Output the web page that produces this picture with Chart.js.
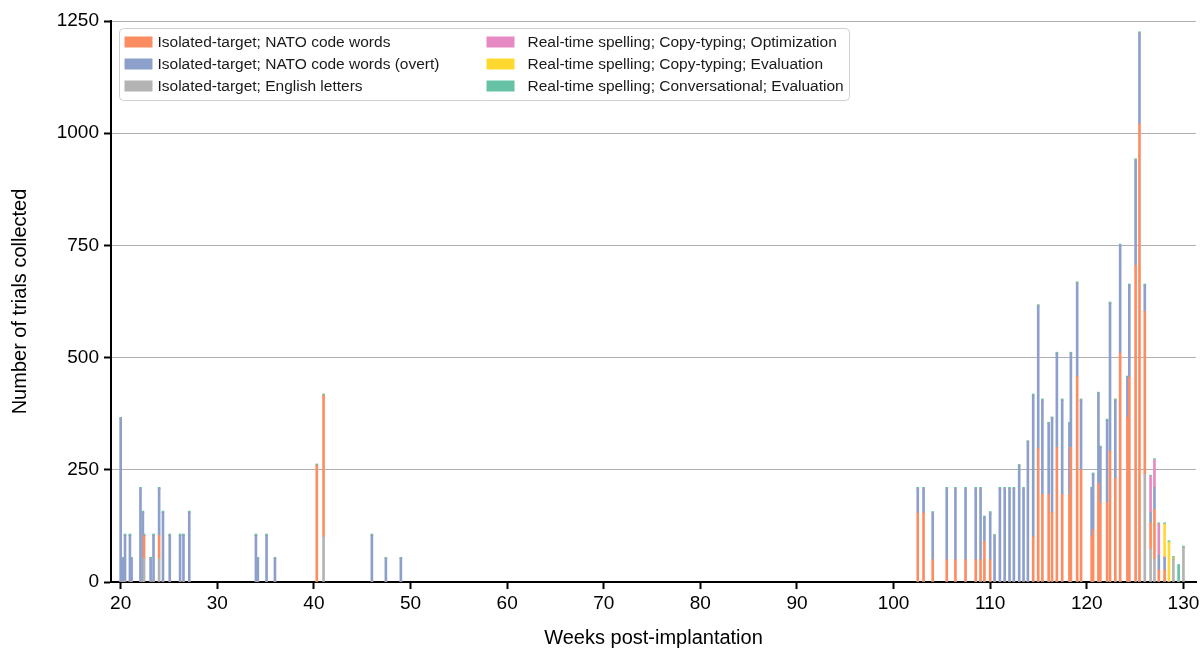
<!DOCTYPE html>
<html>
<head>
<meta charset="utf-8">
<script src="https://cdn.jsdelivr.net/npm/chart.js@4.4.1/dist/chart.umd.min.js"></script>
<style>
  html, body { margin: 0; padding: 0; background: #ffffff; }
  #wrap { width: 1204px; height: 654px; position: relative; }
</style>
</head>
<body>
<div id="wrap"><canvas id="c" width="1204" height="654"></canvas></div>
<script>
// ---- Data ----
const weeks = [
  20.0, 20.25, 20.45, 20.96, 21.13, 22.05, 22.3, 22.42, 23.1, 23.4, 23.98, 24.38,
  25.08, 26.15, 26.5, 27.1, 34.0, 34.2, 35.1, 35.97, 40.3, 41.0, 46.0, 47.45, 49.0,
  102.5, 103.1, 104.05, 105.5, 106.4, 107.45, 108.5, 109.0, 109.4, 110.0, 110.45,
  111.0, 111.5, 112.0, 112.45, 113.0, 113.45, 113.9, 114.45, 114.97, 115.4, 116.05,
  116.4, 116.9, 117.45, 118.2, 118.35, 119.0, 119.4, 120.5, 120.65, 121.2, 121.4,
  122.1, 122.4, 122.95, 123.45, 124.2, 124.4, 125.05, 125.45, 126.0, 126.6, 127.0,
  127.45, 128.05, 128.5, 128.96, 129.5, 130.0
];
const isolatedEnglish = [
  0, 0, 0, 0, 0, 0, 0, 52, 0, 0, 52, 0,
  0, 0, 0, 0, 0, 0, 0, 0, 0, 101, 0, 0, 0,
  0, 0, 0, 0, 0, 0, 0, 0, 0, 0, 0,
  0, 0, 0, 0, 0, 0, 0, 0, 0, 0, 0,
  0, 0, 0, 0, 0, 0, 0, 0, 0, 0, 0,
  0, 0, 0, 0, 0, 0, 0, 0, 240, 74, 51,
  0, 0, 0, 51, 0, 77
];
const isolatedNato = [
  0, 0, 0, 0, 0, 0, 0, 52, 0, 0, 52, 0,
  0, 0, 0, 0, 0, 0, 0, 0, 260, 315, 0, 0, 0,
  154, 154, 50, 50, 50, 50, 50, 50, 91, 50, 0,
  0, 0, 0, 0, 0, 0, 0, 101, 298, 195, 195,
  155, 300, 195, 195, 300, 458, 250, 101, 117, 220, 177,
  177, 292, 231, 510, 367, 457, 706, 1021, 363, 58, 111,
  27, 27, 0, 0, 0, 0
];
const isolatedNatoOvert = [
  364, 52, 104, 104, 52, 208, 155, 0, 52, 104, 104, 155,
  104, 104, 104, 155, 104, 52, 104, 52, 0, 0, 104, 52, 52,
  54, 54, 104, 158, 158, 158, 158, 158, 53, 104, 103,
  208, 208, 208, 208, 259, 208, 312, 315, 317, 210, 158,
  210, 209, 210, 158, 209, 208, 155, 107, 123, 200, 123,
  183, 329, 174, 240, 89, 204, 234, 202, 58, 23, 49,
  33, 27, 0, 0, 0, 0
];
const rtCopyOptimization = [
  0, 0, 0, 0, 0, 0, 0, 0, 0, 0, 0, 0,
  0, 0, 0, 0, 0, 0, 0, 0, 0, 0, 0, 0, 0,
  0, 0, 0, 0, 0, 0, 0, 0, 0, 0, 0,
  0, 0, 0, 0, 0, 0, 0, 0, 0, 0, 0,
  0, 0, 0, 0, 0, 0, 0, 0, 0, 0, 0,
  0, 0, 0, 0, 0, 0, 0, 0, 0, 80, 61,
  69, 2, 0, 0, 0, 0
];
const rtCopyEvaluation = [
  0, 0, 0, 0, 0, 0, 0, 0, 0, 0, 0, 0,
  0, 0, 0, 0, 0, 0, 0, 0, 0, 0, 0, 0, 0,
  0, 0, 0, 0, 0, 0, 0, 0, 0, 0, 0,
  0, 0, 0, 0, 0, 0, 0, 0, 0, 0, 0,
  0, 0, 0, 0, 0, 0, 0, 0, 0, 0, 0,
  0, 0, 0, 0, 0, 0, 0, 0, 0, 0, 0,
  0, 73, 89, 3, 0, 0
];
const rtConversational = [
  3, 3, 3, 3, 3, 3, 3, 3, 3, 3, 3, 3,
  3, 3, 3, 3, 3, 3, 3, 3, 3, 3, 3, 3, 3,
  3, 3, 3, 3, 3, 3, 3, 3, 3, 3, 3,
  3, 3, 3, 3, 3, 3, 3, 3, 3, 3, 3,
  3, 3, 3, 3, 3, 3, 3, 3, 3, 3, 3,
  3, 3, 3, 3, 3, 3, 3, 3, 3, 3, 3,
  3, 3, 3, 3, 39, 3
];
const xTicks = [20, 30, 40, 50, 60, 70, 80, 90, 100, 110, 120, 130];
const yTicks = [0, 250, 500, 750, 1000, 1250];

const seriesLabels = [
  'Isolated-target; NATO code words',
  'Isolated-target; NATO code words (overt)',
  'Isolated-target; English letters',
  'Real-time spelling; Copy-typing; Optimization',
  'Real-time spelling; Copy-typing; Evaluation',
  'Real-time spelling; Conversational; Evaluation'
];
const seriesColors = ['#fc8d62', '#8da0cb', '#b3b3b3', '#e78ac3', '#ffd92f', '#66c2a5'];

// stacking order bottom -> top: English, NATO, NATO overt, Optimization, Evaluation, Conversational
const stackSeries = [
  [2, isolatedEnglish],
  [0, isolatedNato],
  [1, isolatedNatoOvert],
  [3, rtCopyOptimization],
  [4, rtCopyEvaluation],
  [5, rtConversational]
];

const datasets = stackSeries.map(([li, vals]) => ({
  label: seriesLabels[li],
  data: weeks.map((w, i) => ({ x: w, y: vals[i] })),
  backgroundColor: seriesColors[li],
  borderWidth: 0,
  barThickness: 2,
  stack: 's'
}));

Chart.defaults.font.family = '"Liberation Sans", Arial, Helvetica, sans-serif';
Chart.defaults.color = '#000';

const boxLegend = {
  id: 'boxLegend',
  afterDraw(chart) {
    const { ctx, chartArea } = chart;
    const x0 = chartArea.left + 8.5, y0 = chartArea.top + 7.5, w = 730, h = 72;
    ctx.save();
    ctx.beginPath();
    const r = 4;
    ctx.moveTo(x0 + r, y0);
    ctx.lineTo(x0 + w - r, y0);
    ctx.quadraticCurveTo(x0 + w, y0, x0 + w, y0 + r);
    ctx.lineTo(x0 + w, y0 + h - r);
    ctx.quadraticCurveTo(x0 + w, y0 + h, x0 + w - r, y0 + h);
    ctx.lineTo(x0 + r, y0 + h);
    ctx.quadraticCurveTo(x0, y0 + h, x0, y0 + h - r);
    ctx.lineTo(x0, y0 + r);
    ctx.quadraticCurveTo(x0, y0, x0 + r, y0);
    ctx.closePath();
    ctx.fillStyle = 'rgba(255,255,255,0.85)';
    ctx.fill();
    ctx.strokeStyle = '#d0d0d0';
    ctx.lineWidth = 1;
    ctx.stroke();
    ctx.font = '15.5px "Liberation Sans", Arial, sans-serif';
    ctx.textBaseline = 'middle';
    const colSwatchX = [x0 + 5, x0 + 367];
    const colTextX = [x0 + 38, x0 + 408];
    for (let k = 0; k < seriesLabels.length; k++) {
      const col = Math.floor(k / 3), row = k % 3;
      const cy = y0 + 13.5 + row * 22;
      ctx.fillStyle = seriesColors[k];
      ctx.fillRect(colSwatchX[col], cy - 5.5, 28, 11);
      ctx.fillStyle = '#1a1a1a';
      ctx.fillText(seriesLabels[k], colTextX[col], cy + 1);
    }
    ctx.restore();
  }
};

new Chart(document.getElementById('c'), {
  type: 'bar',
  data: { datasets },
  plugins: [boxLegend],
  options: {
    responsive: false,
    animation: false,
    layout: { padding: { left: 8, top: 21, right: 8, bottom: 4 } },
    plugins: {
      legend: { display: false },
      tooltip: { enabled: false }
    },
    scales: {
      x: {
        type: 'linear',
        stacked: true,
        offset: false,
        min: 19.0,
        max: 131.3,
        afterBuildTicks: (s) => { s.ticks = xTicks.map(v => ({ value: v })); },
        afterFit: (s) => { s.height = 68; },
        grid: { offset: false, drawOnChartArea: false, drawTicks: true, tickLength: 7, tickColor: '#000', tickWidth: 2 },
        border: { color: '#000', width: 2 },
        ticks: { font: { size: 19 }, color: '#000', padding: 3, maxRotation: 0, autoSkip: false,
                 callback: (v) => String(v) },
        title: { display: true, text: 'Weeks post-implantation', font: { size: 20 }, color: '#000', padding: { top: 0, bottom: 0 } }
      },
      y: {
        stacked: true,
        min: 0,
        max: 1250,
        afterBuildTicks: (s) => { s.ticks = yTicks.map(v => ({ value: v })); },
        afterFit: (s) => { s.width = 103; },
        grid: { color: '#b0b0b0', lineWidth: 1, drawTicks: true, tickLength: 7, tickColor: '#000', tickWidth: 2 },
        border: { color: '#000', width: 2 },
        ticks: { font: { size: 19 }, color: '#000', padding: 5, callback: (v) => String(v) },
        title: { display: true, text: 'Number of trials collected', font: { size: 20 }, color: '#000', padding: { top: 0, bottom: 0 } }
      }
    }
  }
});
</script>
</body>
</html>
